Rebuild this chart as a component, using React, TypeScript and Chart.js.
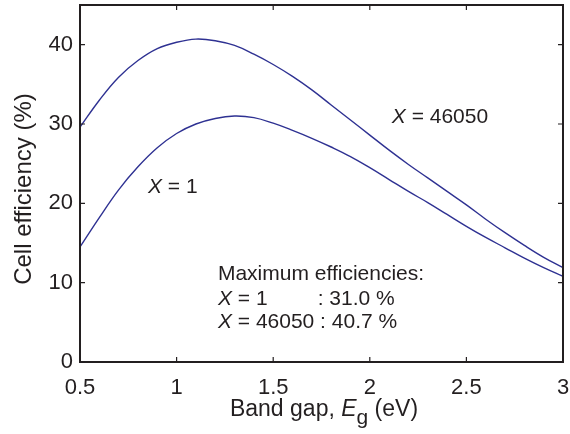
import React, { useEffect, useRef } from "react";
import { Chart, registerables } from "chart.js";

Chart.register(...registerables);

const bandGap = [0.5, 0.6, 0.7, 0.8, 0.9, 1.0, 1.1, 1.2, 1.3, 1.4, 1.5, 1.6, 1.7, 1.8, 1.9, 2.0, 2.1, 2.2, 2.3, 2.4, 2.5, 2.6, 2.7, 2.8, 2.9, 3.0];
const effX46050 = [29.6, 33.0, 35.9, 38.0, 39.5, 40.3, 40.7, 40.5, 39.9, 38.8, 37.5, 36.0, 34.3, 32.4, 30.5, 28.6, 26.7, 24.9, 23.2, 21.5, 19.8, 18.0, 16.3, 14.7, 13.2, 11.9];
const effX1 = [14.5, 18.2, 21.7, 24.6, 27.0, 28.8, 30.0, 30.7, 31.0, 30.8, 30.1, 29.2, 28.2, 27.1, 25.9, 24.5, 23.0, 21.5, 20.1, 18.6, 17.1, 15.7, 14.4, 13.1, 11.9, 10.8];
const xTicks = [0.5, 1, 1.5, 2, 2.5, 3];
const yTicks = [0, 10, 20, 30, 40];

const FONT = "'Liberation Sans', Arial, Helvetica, sans-serif";
const INK = "#231f20";
const LINE = "#2e3192";

const framePlugin = {
  id: "frame",
  afterDraw(chart: any) {
    const { ctx, chartArea: a, scales } = chart;
    const xs = scales.x, ys = scales.y;
    ctx.save();
    ctx.strokeStyle = INK;
    ctx.lineWidth = 2;
    ctx.strokeRect(a.left, a.top, a.right - a.left, a.bottom - a.top);
    ctx.lineWidth = 1.2;
    const tl = 5;
    ctx.beginPath();
    xTicks.forEach((v) => {
      const px = xs.getPixelForValue(v);
      ctx.moveTo(px, a.bottom); ctx.lineTo(px, a.bottom - tl);
      ctx.moveTo(px, a.top); ctx.lineTo(px, a.top + tl);
    });
    yTicks.forEach((v) => {
      const py = ys.getPixelForValue(v);
      ctx.moveTo(a.left, py); ctx.lineTo(a.left + tl, py);
      ctx.moveTo(a.right, py); ctx.lineTo(a.right - tl, py);
    });
    ctx.stroke();

    ctx.fillStyle = INK;
    ctx.textBaseline = "alphabetic";
    const f = 21;
    const txt = (s: string, x: number, y: number, italic = false, size = f) => {
      ctx.font = `${italic ? "italic " : ""}${size}px ${FONT}`;
      ctx.fillText(s, x, y);
      return ctx.measureText(s).width;
    };
    const X = (v: number) => xs.getPixelForValue(v);
    const Y = (v: number) => ys.getPixelForValue(v);

    // X = 46050 label
    let x = X(2.114), y = Y(30.1);
    x += txt("X", x, y, true);
    txt(" = 46050", x, y);
    // X = 1 label
    x = X(0.852); y = Y(21.3);
    x += txt("X", x, y, true);
    txt(" = 1", x, y);
    // Max efficiencies block
    x = X(1.214);
    txt("Maximum efficiencies:", x, Y(10.35));
    let x2 = x + txt("X", x, Y(7.2), true);
    txt(" = 1", x2, Y(7.2));
    txt(": 31.0 %", X(1.73), Y(7.2));
    x2 = x + txt("X", x, Y(4.3), true);
    txt(" = 46050 : 40.7 %", x2, Y(4.3));

    // x-axis title
    const tf = 23, sf = 21;
    const p1 = "Band gap, ";
    const p3 = " (eV)";
    ctx.font = `italic ${tf}px ${FONT}`;
    const wE = ctx.measureText("E").width;
    ctx.font = `${sf}px ${FONT}`;
    const wg = ctx.measureText("g").width;
    ctx.font = `${tf}px ${FONT}`;
    const w1 = ctx.measureText(p1).width;
    const w3 = ctx.measureText(p3).width;
    const total = w1 + wE + wg + w3;
    let tx = 324 - total / 2;
    const ty = 416;
    tx += txt(p1, tx, ty, false, tf);
    tx += txt("E", tx, ty, true, tf);
    tx += txt("g", tx, ty + 8, false, sf);
    txt(p3, tx, ty, false, tf);

    // y-axis title
    ctx.save();
    ctx.translate(31, 189);
    ctx.rotate(-Math.PI / 2);
    ctx.font = `24px ${FONT}`;
    ctx.textAlign = "center";
    ctx.fillText("Cell efficiency (%)", 0, 0);
    ctx.restore();
    ctx.restore();
  },
};

export default function App() {
  const ref = useRef<HTMLCanvasElement>(null);
  useEffect(() => {
    document.body.style.margin = "0";
    const chart = new Chart(ref.current!, {
      type: "line",
      data: {
        datasets: [
          {
            label: "X = 46050",
            data: bandGap.map((g, i) => ({ x: g, y: effX46050[i] })),
            borderColor: LINE,
            borderWidth: 1.4,
            pointRadius: 0,
            tension: 0.4,
          },
          {
            label: "X = 1",
            data: bandGap.map((g, i) => ({ x: g, y: effX1[i] })),
            borderColor: LINE,
            borderWidth: 1.4,
            pointRadius: 0,
            tension: 0.4,
          },
        ],
      },
      options: {
        animation: false,
        responsive: false,
        maintainAspectRatio: false,
        layout: { padding: { top: 5, right: 7, left: 0, bottom: 0 } },
        plugins: { legend: { display: false }, tooltip: { enabled: false } },
        scales: {
          x: {
            type: "linear",
            min: 0.5,
            max: 3,
            grid: { display: false, drawTicks: false },
            border: { display: false },
            ticks: {
              stepSize: 0.5, color: INK, font: { family: FONT, size: 22 }, padding: 13,
              includeBounds: false, maxRotation: 0, autoSkip: false,
              callback: (v: any) => String(v),
            },
            afterFit: (s: any) => {
              s.height = 72;
              s.paddingLeft = 0; s.paddingRight = 0;
            },
          },
          y: {
            min: 0,
            max: 45,
            grid: { display: false, drawTicks: false },
            border: { display: false },
            ticks: {
              stepSize: 10, color: INK, font: { family: FONT, size: 22 }, padding: 7,
              includeBounds: false, callback: (v: any) => String(v),
            },
            afterFit: (s: any) => {
              s.width = 80;
              s.paddingTop = 0; s.paddingBottom = 0;
            },
          },
        },
      },
      plugins: [framePlugin],
    } as any);
    return () => chart.destroy();
  }, []);
  return (
    <div style={{ width: 570, height: 434 }}>
      <canvas ref={ref} width={570} height={434} style={{ width: 570, height: 434, display: "block" }} />
    </div>
  );
}
